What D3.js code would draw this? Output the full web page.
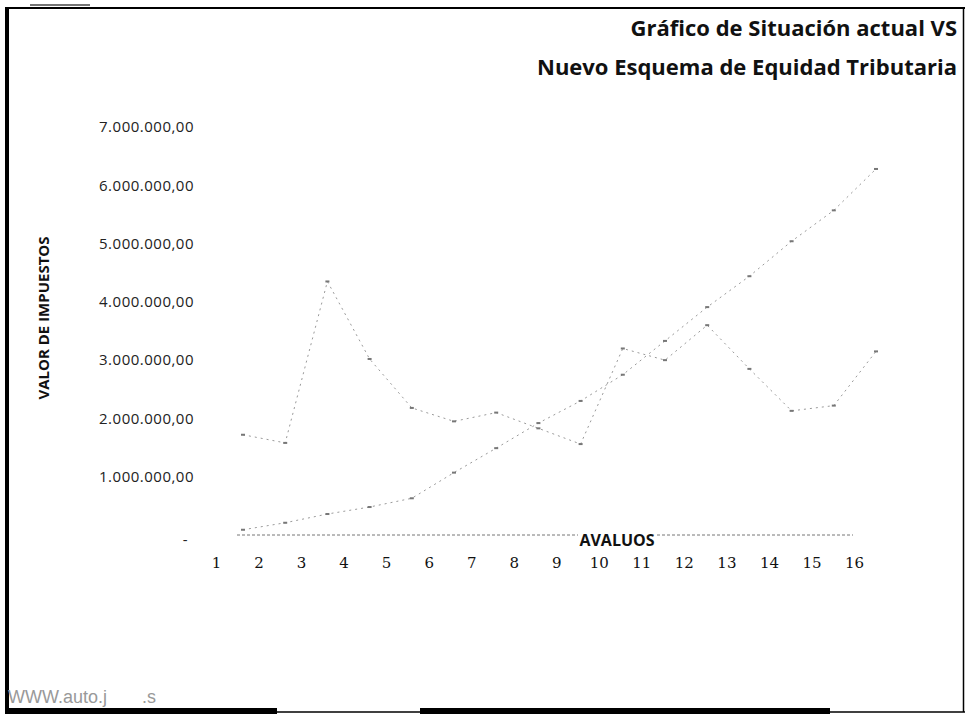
<!DOCTYPE html>
<html>
<head>
<meta charset="utf-8">
<script src="https://cdn.jsdelivr.net/npm/d3@7/dist/d3.min.js"></script>
<style>
  html, body { margin: 0; padding: 0; background: #fff; }
  svg { display: block; }
</style>
</head>
<body>
<svg id="chart" width="968" height="716"></svg>
<script>
// ---- data ----
const categories = [1,2,3,4,5,6,7,8,9,10,11,12,13,14,15,16];
const situacionActual = [1720000,1580000,4350000,3020000,2180000,1950000,2100000,1830000,1560000,3200000,3000000,3600000,2850000,2130000,2220000,3150000];
const nuevoEsquema = [90000,210000,360000,480000,630000,1070000,1490000,1920000,2300000,2750000,3330000,3910000,4440000,5040000,5570000,6280000];
const yTicks = [0,1000000,2000000,3000000,4000000,5000000,6000000,7000000];
const titleLines = ["Gráfico de Situación actual VS", "Nuevo Esquema de Equidad Tributaria"];
const yTitle = "VALOR DE IMPUESTOS";
const xTitle = "AVALUOS";
const watermark = "WWW.auto.j       .s";

const svg = d3.select("#chart");

// ---- scales ----
const y = d3.scaleLinear().domain([0, 7000000]).range([535, 127]);
const xPt = d3.scaleLinear().domain([1, 16]).range([243, 876]);
const xLab = d3.scaleLinear().domain([1, 16]).range([216, 854]);

const fmt = v => v === 0 ? "-" :
  d3.format(",.2f")(v).replace(/,/g, "#").replace(".", ",").replace(/#/g, ".");

// ---- frame ----
svg.append("rect").attr("x", 5).attr("y", 7).attr("width", 4).attr("height", 706).attr("fill", "#000");
svg.append("line").attr("x1", 5).attr("x2", 965).attr("y1", 8).attr("y2", 8).attr("stroke", "#000").attr("stroke-width", 2);
svg.append("line").attr("x1", 963.5).attr("x2", 963.5).attr("y1", 8).attr("y2", 712).attr("stroke", "#000").attr("stroke-width", 1.5);
svg.append("line").attr("x1", 5).attr("x2", 965).attr("y1", 712).attr("y2", 712).attr("stroke", "#000").attr("stroke-width", 1.5);
svg.append("rect").attr("x", 5).attr("y", 708).attr("width", 272).attr("height", 6).attr("fill", "#000");
svg.append("rect").attr("x", 420).attr("y", 708).attr("width", 410).attr("height", 6).attr("fill", "#000");
svg.append("line").attr("x1", 30).attr("x2", 90).attr("y1", 5).attr("y2", 5).attr("stroke", "#444").attr("stroke-width", 1.5);

// ---- titles ----
svg.append("g").selectAll("text").data(titleLines).join("text")
  .attr("x", 957).attr("y", (d, i) => 36 + i * 39)
  .attr("text-anchor", "end")
  .attr("font-family", "'Open Sans', sans-serif")
  .attr("font-weight", "bold").attr("font-size", 22).attr("fill", "#111")
  .text(d => d);

// ---- y axis labels ----
const yAxis = d3.axisLeft(y).tickValues(yTicks).tickFormat(fmt).tickSize(0).tickPadding(0);
const gy = svg.append("g").attr("transform", "translate(194,0)").call(yAxis);
gy.select(".domain").remove();
gy.selectAll("text")
  .attr("font-family", "'Open Sans', sans-serif").attr("font-size", 15)
  .attr("letter-spacing", 0.5).attr("fill", "#222");
gy.selectAll(".tick").filter(d => d === 0).select("text").attr("dx", -6).attr("dy", "0.6em");

svg.append("text")
  .attr("transform", "translate(49,318) rotate(-90)")
  .attr("text-anchor", "middle")
  .attr("font-family", "'Open Sans', sans-serif")
  .attr("font-weight", "bold").attr("font-size", 15).attr("fill", "#111")
  .text(yTitle);

// ---- baseline ----
svg.append("line")
  .attr("x1", 237).attr("x2", 853).attr("y1", y(0)).attr("y2", y(0))
  .attr("stroke", "#777").attr("stroke-width", 1).attr("stroke-dasharray", "3,2");

// ---- x axis labels ----
const xAxis = d3.axisBottom(xLab).tickValues(categories).tickFormat(d3.format("d")).tickSize(0).tickPadding(0);
const gx = svg.append("g").attr("transform", "translate(0,557)").call(xAxis);
gx.select(".domain").remove();
gx.selectAll("text")
  .attr("font-family", "'DejaVu Serif', serif").attr("font-size", 15).attr("fill", "#111");

svg.append("rect").attr("x", 578).attr("y", 531).attr("width", 78).attr("height", 14).attr("fill", "#fff");
svg.append("text")
  .attr("x", 617).attr("y", 546).attr("text-anchor", "middle")
  .attr("font-family", "'Open Sans', sans-serif")
  .attr("font-weight", "bold").attr("font-size", 16).attr("fill", "#111")
  .text(xTitle);

// ---- lines ----
const line = d3.line().x((d, i) => xPt(categories[i])).y(d => y(d));
const series = [
  { name: "Situación actual", values: situacionActual },
  { name: "Nuevo Esquema", values: nuevoEsquema }
];
series.forEach(s => {
  svg.append("path")
    .attr("d", line(s.values))
    .attr("fill", "none").attr("stroke", "#9a9a9a").attr("stroke-width", 1)
    .attr("stroke-dasharray", "2,4");
  svg.append("g").selectAll("rect").data(s.values).join("rect")
    .attr("x", (d, i) => xPt(categories[i]) - 2)
    .attr("y", d => y(d) - 1)
    .attr("width", 4).attr("height", 2)
    .attr("fill", "#777");
});

// ---- watermark ----
svg.append("text")
  .attr("x", 8).attr("y", 703)
  .attr("font-family", "'Liberation Sans Narrow', 'Liberation Sans', sans-serif").attr("font-size", 18)
  .attr("fill", "#999").attr("xml:space", "preserve")
  .text(watermark);
</script>
</body>
</html>
